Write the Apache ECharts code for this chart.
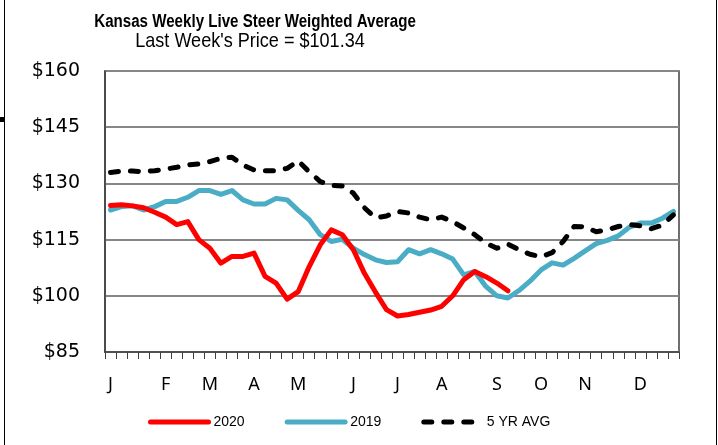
<!DOCTYPE html>
<html>
<head>
<meta charset="utf-8">
<script src="https://cdn.jsdelivr.net/npm/echarts@6/dist/echarts.min.js"></script>
<style>
	html, body { margin: 0; padding: 0; background: #fff; }
	#chart { width: 718px; height: 445px; }
</style>
</head>
<body>
<div id="chart"></div>
<script>
// month initials and the week (0-based) where each one sits on the axis
var monthNames = ["J", "F", "M", "A", "M", "J", "J", "A", "S", "O", "N", "D"];
var monthWeeks = [0, 5, 9, 13, 17, 22, 26, 30, 35, 39, 43, 48];

// weekly prices, $/cwt
var price2020 = [124.1, 124.3, 124, 123.5, 122.3, 121, 119, 119.8, 115, 112.7, 108.7, 110.5, 110.5,
	111.4, 105.2, 103.4, 99.1, 101.1, 107.8, 113.6, 117.6, 116.3, 112.3, 106, 101, 96.3,
	94.6, 95, 95.6, 96.2, 97.2, 100, 104.3, 106.5, 105.1, 103.4, 101.34];
var price2019 = [122.9, 123.8, 124, 122.9, 123.8, 125.2, 125.2, 126.3, 128.1, 128.1, 127.1, 128.1, 125.6,
	124.5, 124.5, 126, 125.6, 122.8, 120.3, 116.3, 114.5, 115.1, 112.7, 111, 109.6, 108.9,
	109.1, 112.3, 111.2, 112.3, 111.2, 109.8, 105.6, 106.5, 102.5, 100, 99.4, 101.4, 103.9,
	106.9, 108.8, 108.2, 110, 112, 113.9, 114.8, 116, 118.3, 119.4, 119.4, 120.7, 122.5];
var avg5yr = [132.9, 133.3, 133.3, 133.1, 133.4, 133.8, 134.3, 134.9, 135.2, 135.8, 136.7, 137, 134.9,
	133.6, 133.4, 133.4, 134, 136, 133.1, 130.5, 129.5, 129.3, 127.4, 123.5, 120.8, 121.3,
	122.5, 122.1, 121, 120.3, 121, 119.8, 118.1, 116.3, 114.1, 112.7, 113.8, 112.3, 111.1,
	110.4, 111.5, 114.5, 118.5, 118.4, 117.1, 117.6, 118.5, 119, 118.7, 117.9, 118.9, 121.6];

var yMin = 85, yMax = 160, yStep = 15;

var weeks = [];
for (var i = 0; i < 52; i++) {
	var k = monthWeeks.indexOf(i);
	weeks.push(k >= 0 ? monthNames[k] + "_" + i : "_" + i);
}

var chart = echarts.init(document.getElementById("chart"));

var option = {
	animation: false,
	backgroundColor: "#fff",
	legend: {
		left: 148,
		top: 415,
		itemWidth: 58,
		itemHeight: 14,
		itemGap: 40,
		padding: 0,
		itemStyle: { opacity: 0 },
		lineStyle: { width: 5 },
		textStyle: { fontFamily: "Liberation Sans", fontSize: 14, color: "#000" },
		data: ["2020", "2019", "5 YR AVG"]
	},
	grid: {
		left: 105,
		right: 39,
		top: 71,
		bottom: 93,
		show: true,
		borderColor: "#404040",
		borderWidth: 1.5
	},
	xAxis: {
		type: "category",
		data: weeks,
		boundaryGap: true,
		axisLine: { lineStyle: { color: "#404040", width: 1.5 } },
		axisTick: { show: true, interval: 0, length: 7, lineStyle: { color: "#404040", width: 1 } },
		axisLabel: {
			interval: 0,
			margin: 24,
			fontFamily: "Noto Sans",
			fontSize: 18,
			color: "#000",
			formatter: function(v) { return v.split("_")[0]; }
		},
		splitLine: { show: false }
	},
	yAxis: {
		type: "value",
		min: yMin,
		max: yMax,
		interval: yStep,
		axisLine: { show: true, lineStyle: { color: "#404040", width: 1.5 } },
		axisTick: { show: false },
		axisLabel: {
			margin: 25,
			fontFamily: "DejaVu Sans",
			fontSize: 19,
			color: "#000",
			formatter: function(v) { return "$" + v; }
		},
		splitLine: { show: true, lineStyle: { color: "#868686", width: 2 } }
	},
	series: [
		{
			name: "2020",
			type: "line",
			data: price2020,
			symbol: "circle",
			showSymbol: false,
			z: 4,
			lineStyle: { color: "#ff0000", width: 5, join: "round", cap: "round" },
			itemStyle: { color: "#ff0000" }
		},
		{
			name: "2019",
			type: "line",
			data: price2019,
			symbol: "circle",
			showSymbol: false,
			z: 3,
			lineStyle: { color: "#4bacc6", width: 5, join: "round", cap: "round" },
			itemStyle: { color: "#4bacc6" }
		},
		{
			name: "5 YR AVG",
			type: "line",
			data: avg5yr,
			symbol: "circle",
			showSymbol: false,
			z: 5,
			lineStyle: { color: "#000", width: 5, type: [8, 12], cap: "round", join: "round" },
			itemStyle: { color: "#000" }
		}
	],
	graphic: [
		// titles are set a bit condensed, like the original
		{
			type: "text", x: 255, y: 22, scaleX: 0.84,
			style: {
				text: "Kansas Weekly Live Steer Weighted Average",
				font: "bold 18px 'Liberation Sans'", fill: "#000",
				textAlign: "center", textVerticalAlign: "middle"
			}
		},
		{
			type: "text", x: 250, y: 41, scaleX: 0.86,
			style: {
				text: "Last Week's Price = $101.34",
				font: "21px 'Liberation Sans'", fill: "#000",
				textAlign: "center", textVerticalAlign: "middle"
			}
		},
		{ type: "line", shape: { x1: 4.5, y1: 0, x2: 4.5, y2: 445 }, style: { stroke: "#000", lineWidth: 1 } },
		{ type: "rect", shape: { x: 0, y: 117, width: 4, height: 5 }, style: { fill: "#000" } },
		{ type: "line", shape: { x1: 716.5, y1: 0, x2: 716.5, y2: 445 }, style: { stroke: "#000", lineWidth: 1 } }
	]
};

chart.setOption(option);
</script>
</body>
</html>
